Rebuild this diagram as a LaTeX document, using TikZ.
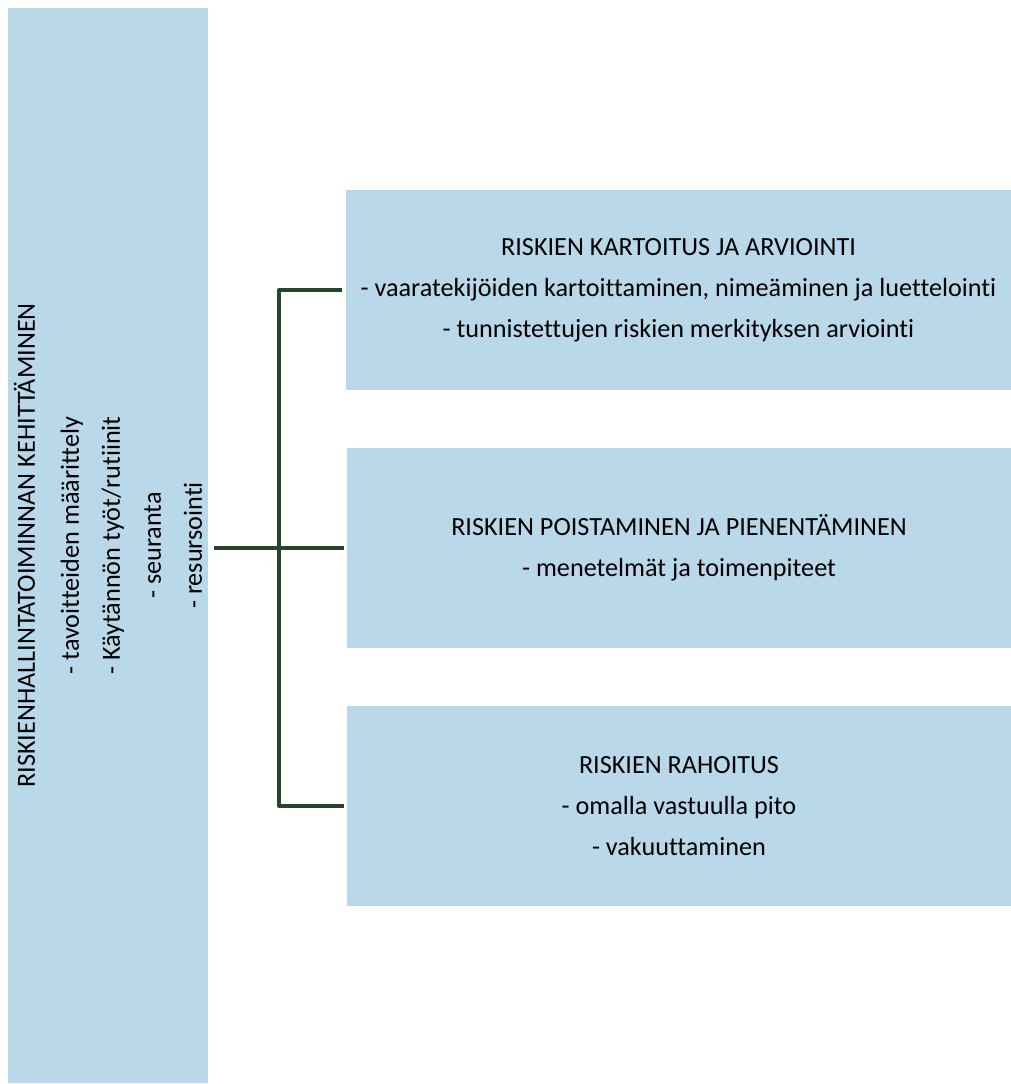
\documentclass[tikz,border=0pt]{standalone}
\usepackage{fontspec}
\setmainfont{Carlito}[Ligatures=NoCommon]
\definecolor{boxblue}{RGB}{185,216,233}
\definecolor{linegreen}{RGB}{38,70,44}
\begin{document}
\begin{tikzpicture}[x=1pt,y=-1pt,
  panel/.style={fill=boxblue, draw=none, inner sep=0pt, align=center,
    font=\fontsize{26.2}{41}\selectfont},
  link/.style={draw=linegreen, line width=4pt, line join=round}]
\useasboundingbox (0,0) rectangle (1011,1084);
\node[panel, rotate=90, minimum width=1075pt, minimum height=200pt] (main) at (108,545.5)
  {RISKIENHALLINTATOIMINNAN KEHITTÄMINEN\\[3pt]
   - tavoitteiden määrittely\\
   - Käytännön työt/rutiinit\\
   - seuranta\\
   - resursointi};
\node[panel, minimum width=665pt, minimum height=200pt] (top) at (678.5,290)
  {RISKIEN KARTOITUS JA ARVIOINTI\\
   - vaaratekijöiden kartoittaminen, nimeäminen ja luettelointi\\
   - tunnistettujen riskien merkityksen arviointi};
\node[panel, minimum width=664pt, minimum height=200pt] (mid) at (679,548)
  {RISKIEN POISTAMINEN JA PIENENTÄMINEN\\
   - menetelmät ja toimenpiteet};
\node[panel, minimum width=664pt, minimum height=200pt] (bot) at (679,806)
  {RISKIEN RAHOITUS\\
   - omalla vastuulla pito\\
   - vakuuttaminen};
\coordinate (spine) at (279,548);
\draw[link] ([xshift=6pt]main.south |- mid.west) -- ([xshift=-3pt]mid.west);
\draw[link] ([xshift=-4pt]top.west) -| (spine) |- ([xshift=-3pt]bot.west);
\end{tikzpicture}
\end{document}
